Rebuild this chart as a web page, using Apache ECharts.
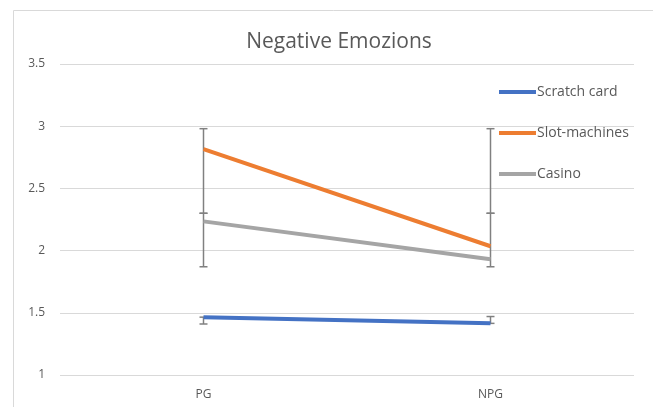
<!DOCTYPE html>
<html>
<head>
<meta charset="utf-8">
<script src="https://cdn.jsdelivr.net/npm/echarts@6/dist/echarts.min.js"></script>
<style>html,body{margin:0;padding:0;background:#fff}#c{width:653px;height:407px}</style>
</head>
<body>
<div id="c"></div>
<script>
const categories = ['PG', 'NPG'];
const scratchCard = [1.465, 1.415];
const slotMachines = [2.815, 2.035];
const casino = [2.235, 1.93];
// error bar extents [low, high] per category
const scratchErrLow = [1.41, 1.415];
const scratchErrHigh = [1.465, 1.47];
const slotErrLow = [2.30, 2.30];
const slotErrHigh = [2.98, 2.98];
const casinoErrLow = [1.87, 1.87];
const casinoErrHigh = [2.30, 2.30];
const yTicks = [1, 1.5, 2, 2.5, 3, 3.5];

const FONT = 'Open Sans';
const TXT = '#595959';

function errData(lo, hi) { return categories.map((c, i) => [i, lo[i], hi[i]]); }

function renderErr(params, api) {
  const x = api.value(0);
  const lo = api.coord([x, api.value(1)]);
  const hi = api.coord([x, api.value(2)]);
  const hw = 4;
  const style = { stroke: '#808080', lineWidth: 1.5 };
  return {
    type: 'group',
    children: [
      { type: 'line', shape: { x1: lo[0], y1: lo[1], x2: hi[0], y2: hi[1] }, style },
      { type: 'line', shape: { x1: lo[0] - hw, y1: lo[1], x2: lo[0] + hw, y2: lo[1] }, style },
      { type: 'line', shape: { x1: hi[0] - hw, y1: hi[1], x2: hi[0] + hw, y2: hi[1] }, style }
    ]
  };
}

const chart = echarts.init(document.getElementById('c'), null, { renderer: 'canvas' });
const lineSeries = (name, data, color) => ({
  name, type: 'line', data, symbol: 'none', z: 3,
  lineStyle: { color, width: 4 }, itemStyle: { color }
});
const errSeries = (lo, hi) => ({
  type: 'custom', renderItem: renderErr, data: errData(lo, hi), z: 2, silent: true
});

chart.setOption({
  animation: false,
  title: {
    text: 'Negative Emozions', left: 334, top: 27, textAlign: 'center',
    textStyle: { fontFamily: FONT, fontSize: 21, fontWeight: 'normal', color: TXT }
  },
  graphic: [{
    type: 'rect', shape: { x: 13.5, y: 10.5, width: 700, height: 500 },
    style: { fill: 'none', stroke: '#d9d9d9', lineWidth: 1 }, silent: true, z: -1
  }],
  legend: {
    orient: 'vertical', left: 494, top: 80, itemGap: 27,
    itemWidth: 37, itemHeight: 4, icon: 'rect',
    textStyle: { fontFamily: FONT, fontSize: 14, color: TXT, padding: [0, 0, 0, -4] },
    data: ['Scratch card', 'Slot-machines', 'Casino']
  },
  grid: { left: 60, right: 19, top: 64, bottom: 32 },
  xAxis: {
    type: 'category', data: categories, boundaryGap: true,
    axisLine: { show: false }, axisTick: { show: false },
    axisLabel: { fontFamily: FONT, fontSize: 12, color: TXT, margin: 14 }
  },
  yAxis: {
    type: 'value', min: 1, max: 3.5, interval: 0.5,
    axisLine: { show: false }, axisTick: { show: false },
    splitLine: { lineStyle: { color: '#d9d9d9', width: 1 } },
    axisLabel: { fontFamily: FONT, fontSize: 12, color: TXT, margin: 15 }
  },
  series: [
    lineSeries('Scratch card', scratchCard, '#4472c4'),
    lineSeries('Slot-machines', slotMachines, '#ed7d31'),
    lineSeries('Casino', casino, '#a5a5a5'),
    errSeries(scratchErrLow, scratchErrHigh),
    errSeries(slotErrLow, slotErrHigh),
    errSeries(casinoErrLow, casinoErrHigh)
  ]
});
</script>
</body>
</html>
